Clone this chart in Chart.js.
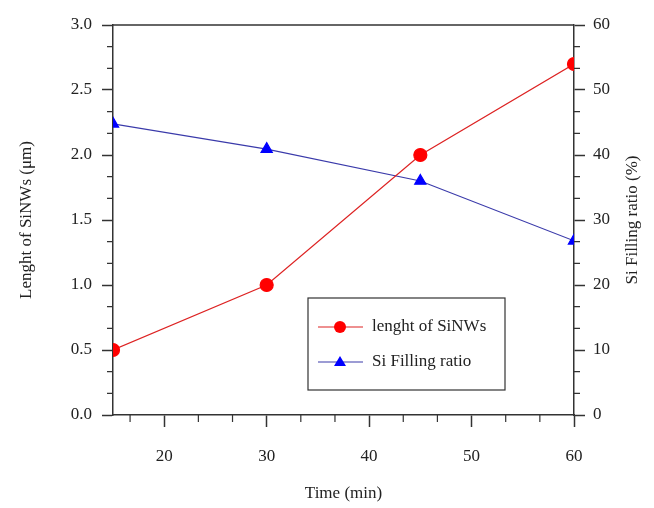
<!DOCTYPE html>
<html>
<head>
<meta charset="utf-8">
<script src="https://cdn.jsdelivr.net/npm/chart.js@4"></script>
<style>
  html, body { margin: 0; padding: 0; background: #fff; }
  #wrap { width: 654px; height: 508px; }
</style>
</head>
<body>
<div id="wrap"><canvas id="chart" width="654" height="508"></canvas></div>
<script>
const times = [15, 30, 45, 60];
const lengthValues = [0.5, 1.0, 2.0, 2.7];
const fillingValues = [44.8, 40.9, 36.0, 26.8];
const xTickValues = [20, 30, 40, 50, 60];
const leftTickValues = [0, 0.5, 1.0, 1.5, 2.0, 2.5, 3.0];
const rightTickValues = [0, 10, 20, 30, 40, 50, 60];
const rightTitle = "Si Filling ratio (%)";

const axisColor = "#333";
const textColor = "#222";
const serif = "'Liberation Serif', 'DejaVu Serif', serif";

function setTicks(values) {
  return (scale) => { scale.ticks = values.map((v) => ({ value: v })); };
}

// minor ticks (3 sub-divisions), the top frame line and the right title
const framePlugin = {
  id: "frame",
  afterDraw(chart) {
    const ctx = chart.ctx;
    const a = chart.chartArea;
    const x = chart.scales.x, yl = chart.scales.y, yr = chart.scales.y1;
    ctx.save();
    ctx.strokeStyle = axisColor;
    ctx.lineWidth = 1.5;
    ctx.beginPath();
    ctx.moveTo(a.left, a.top);
    ctx.lineTo(a.right, a.top);
    ctx.stroke();
    ctx.lineWidth = 1.2;
    ctx.beginPath();
    for (let k = -1; k <= 12; k++) {
      if (k % 3 === 0) continue;
      const v = 20 + k * 10 / 3;
      if (v < x.min || v > x.max) continue;
      const px = x.getPixelForValue(v);
      ctx.moveTo(px, a.bottom);
      ctx.lineTo(px, a.bottom + 7);
    }
    for (let k = 0; k <= 18; k++) {
      if (k % 3 === 0) continue;
      const py = yl.getPixelForValue(k * 0.5 / 3);
      ctx.moveTo(a.left, py);
      ctx.lineTo(a.left - 6, py);
      const pr = yr.getPixelForValue(k * 10 / 3);
      ctx.moveTo(a.right, pr);
      ctx.lineTo(a.right + 6, pr);
    }
    ctx.stroke();

    ctx.translate(a.right + 59, (a.top + a.bottom) / 2);
    ctx.rotate(-Math.PI / 2);
    ctx.fillStyle = textColor;
    ctx.font = "17px " + serif;
    ctx.textAlign = "center";
    ctx.textBaseline = "middle";
    ctx.fillText(rightTitle, 0, 0);
    ctx.restore();
  }
};

// legend box drawn inside the plot area
const boxLegend = {
  id: "boxLegend",
  afterDraw(chart) {
    const ctx = chart.ctx;
    const a = chart.chartArea;
    const bx = a.left + 195, by = a.top + 273, bw = 197, bh = 92;
    ctx.save();
    ctx.fillStyle = "#fff";
    ctx.fillRect(bx, by, bw, bh);
    ctx.strokeStyle = axisColor;
    ctx.lineWidth = 1.2;
    ctx.strokeRect(bx, by, bw, bh);
    ctx.font = "17px " + serif;
    ctx.textBaseline = "middle";
    chart.data.datasets.forEach((ds, i) => {
      const cy = by + 29 + i * 35;
      ctx.strokeStyle = ds.borderColor;
      ctx.lineWidth = 1.2;
      ctx.beginPath();
      ctx.moveTo(bx + 10, cy);
      ctx.lineTo(bx + 55, cy);
      ctx.stroke();
      ctx.fillStyle = ds.pointBackgroundColor;
      ctx.beginPath();
      if (ds.pointStyle === "triangle") {
        ctx.moveTo(bx + 32, cy - 6);
        ctx.lineTo(bx + 38, cy + 4);
        ctx.lineTo(bx + 26, cy + 4);
        ctx.closePath();
      } else {
        ctx.arc(bx + 32, cy, 6, 0, Math.PI * 2);
      }
      ctx.fill();
      ctx.fillStyle = textColor;
      ctx.fillText(ds.label, bx + 64, cy);
    });
    ctx.restore();
  }
};

const tickFont = { family: serif, size: 17 };
const titleFont = { family: serif, size: 17 };

new Chart(document.getElementById("chart"), {
  type: "line",
  data: {
    datasets: [
      {
        label: "lenght of SiNWs",
        data: times.map((t, i) => ({ x: t, y: lengthValues[i] })),
        yAxisID: "y",
        borderColor: "#dd2222",
        borderWidth: 1.2,
        pointStyle: "circle",
        pointRadius: 6.5,
        pointBackgroundColor: "#ff0000",
        pointBorderColor: "#ff0000",
        tension: 0
      },
      {
        label: "Si Filling ratio",
        data: times.map((t, i) => ({ x: t, y: fillingValues[i] })),
        yAxisID: "y1",
        borderColor: "#3a3aaa",
        borderWidth: 1.2,
        pointStyle: "triangle",
        pointRadius: 6.5,
        pointBackgroundColor: "#0000ff",
        pointBorderColor: "#0000ff",
        tension: 0
      }
    ]
  },
  options: {
    responsive: false,
    animation: false,
    layout: { padding: { top: 25, left: 0, right: 0, bottom: 0 } },
    plugins: { legend: { display: false }, tooltip: { enabled: false } },
    scales: {
      x: {
        type: "linear",
        min: 15,
        max: 60,
        afterBuildTicks: setTicks(xTickValues),
        afterFit: (s) => { s.height = 93; },
        grid: { drawOnChartArea: false, tickLength: 12, tickColor: axisColor, tickWidth: 1.5 },
        border: { color: axisColor, width: 1.5 },
        ticks: { color: textColor, font: tickFont, padding: 19, maxRotation: 0 },
        title: { display: true, text: "Time (min)", color: textColor, font: titleFont, padding: { top: 8 } }
      },
      y: {
        position: "left",
        min: 0,
        max: 3,
        afterBuildTicks: setTicks(leftTickValues),
        afterFit: (s) => { s.width = 113; },
        grid: { drawOnChartArea: false, tickLength: 11, tickColor: axisColor, tickWidth: 1.5 },
        border: { color: axisColor, width: 1.5 },
        ticks: { color: textColor, font: tickFont, padding: 10, callback: (v) => v.toFixed(1) },
        title: { display: true, text: "Lenght of SiNWs (μm)", color: textColor, font: titleFont, padding: { bottom: 0, top: 16 } }
      },
      y1: {
        position: "right",
        min: 0,
        max: 60,
        afterBuildTicks: setTicks(rightTickValues),
        afterFit: (s) => { s.width = 80; },
        grid: { drawOnChartArea: false, tickLength: 11, tickColor: axisColor, tickWidth: 1.5 },
        border: { color: axisColor, width: 1.5 },
        ticks: { color: textColor, font: tickFont, padding: 8 }
      }
    }
  },
  plugins: [framePlugin, boxLegend]
});
</script>
</body>
</html>
